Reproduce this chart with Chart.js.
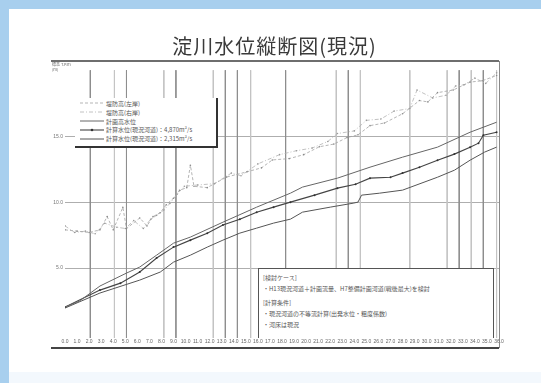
<!DOCTYPE html>
<html lang="ja">
<head>
<meta charset="utf-8">
<title>淀川水位縦断図(現況)</title>
<script src="https://cdn.jsdelivr.net/npm/chart.js@4.4.0/dist/chart.umd.min.js"></script>
<style>
  html, body { margin: 0; padding: 0; }
  body { width: 541px; height: 383px; position: relative; overflow: hidden; background: #f3f8fd;
         font-family: "Noto Sans CJK JP", "Noto Sans", sans-serif; }
  .band-top { position: absolute; left: 0; top: 0; width: 541px; height: 9px; background: #a8cfee; }
  .band-left { position: absolute; left: 0; top: 0; width: 9px; height: 383px; background: #a8cfee; }
  .panel { position: absolute; left: 9px; top: 9px; width: 532px; height: 363px; background: #fff; }
  #chart { position: absolute; left: 0; top: 0; }
  .title { position: absolute; left: 4px; top: 31px; width: 541px; text-align: center;
           font-size: 20px; color: #3a3a3a; letter-spacing: 1px; }
  .unit { position: absolute; left: 52px; top: 62px; font-size: 4px; line-height: 5px; color: #666; }
  #legend { position: absolute; left: 75px; top: 98px; width: 136px; height: 47px; background: #fff;
            border-right: 2px solid #333; border-bottom: 2px solid #333; padding: 1px 0 0 5px; box-sizing: content-box; }
  #legend .row { height: 8.8px; display: flex; align-items: center; font-size: 6px; color: #555; white-space: nowrap; }
  #legend svg { margin-right: 2px; flex: none; }
  .note { position: absolute; left: 258px; top: 268px; width: 230px; height: 66px; background: #fff;
          border: 1px solid #555; border-bottom: none; padding: 3px 0 0 4px; font-size: 6px; line-height: 11px;
          color: #555; white-space: nowrap; }
  .note .gap { height: 3px; }
</style>
</head>
<body>
<div class="band-top"></div>
<div class="band-left"></div>
<div class="panel"></div>
<canvas id="chart" width="541" height="383"></canvas>
<div class="title">淀川水位縦断図(現況)</div>
<div class="unit">標高 T.P.m<br>(m)</div>
<div id="legend"></div>
<div class="note">
  <div>[検討ケース]</div>
  <div>・H13現況河道＋計画流量、H7整備計画河道(戦後最大)を検討</div>
  <div class="gap"></div>
  <div>[計算条件]</div>
  <div>・現況河道の不等流計算(出発水位・粗度係数)</div>
  <div>・河床は現況</div>
</div>

<script>
// 距離標 (km) と目盛
const xTicks = [0, 1, 2, 3, 4, 5, 6, 7, 8, 9, 10, 11, 12, 13, 14, 15, 16, 17, 18,
                19, 20, 21, 22, 23, 24, 25, 26, 27, 28, 29, 30, 31, 32, 33, 34, 35, 36];
const yTicks = [5, 10, 15];

// 橋梁・構造物の位置 (km)
const bridgeKm   = [2.1, 4.1, 5.1, 8.2, 9.2, 12.3, 13.3, 14.3, 15.4, 18.3, 22.5, 23.5, 24.5, 28.6, 31.7, 32.7, 33.7, 34.7, 35.8];
const bridgeType = ['main', 'sub', 'main', 'sub', 'main', 'sub', 'main', 'main', 'sub', 'main',
                    'sub', 'main', 'sub', 'sub', 'sub', 'main', 'sub', 'main', 'sub'];
const bridgeTop = 20;

// 堤防高(左岸)
const levLeftKm = [0, 1.0, 2.0, 2.9, 3.5, 4.0, 4.8, 5.1, 6.2, 6.8, 7.3, 7.9, 8.4, 9.0, 9.5, 10.1, 10.4, 10.7, 11.8, 13.4,
                   15.1, 16.3, 17.2, 18.6, 19.8, 21.1, 22.3, 23.4, 24.3, 25.3, 26.5, 28.0, 29.4, 30.1, 30.9, 32.2, 33.6, 34.6, 35.8];
const levLeftZ  = [7.9, 7.8, 7.7, 7.9, 8.9, 7.9, 9.6, 8.0, 8.8, 8.2, 8.9, 9.2, 9.8, 10.3, 10.9, 11.1, 12.8, 11.2, 11.1, 11.9,
                   12.3, 12.6, 13.2, 13.3, 13.6, 14.2, 14.4, 14.9, 15.1, 15.8, 16.0, 16.7, 17.7, 17.6, 18.3, 18.5, 19.1, 19.2, 19.6];

// 堤防高(右岸)
const levRightKm = [0, 0.8, 1.7, 2.5, 3.3, 4.3, 5.0, 5.7, 6.5, 7.1, 7.6, 8.2, 8.7, 9.3, 9.9, 11.0, 12.4, 13.8, 14.6,
                    16.0, 17.8, 19.2, 20.5, 21.8, 22.6, 24.0, 25.0, 26.2, 27.3, 28.6, 29.2, 30.5, 31.6, 32.4, 33.1, 34.0, 34.9, 35.8];
const levRightZ  = [8.2, 7.7, 7.8, 7.6, 8.4, 8.1, 8.0, 8.6, 8.0, 8.7, 9.0, 9.4, 9.9, 10.6, 11.2, 11.3, 11.4, 12.2, 12.0,
                    12.9, 13.6, 13.9, 14.1, 14.6, 15.2, 15.4, 16.2, 16.3, 16.9, 17.1, 18.5, 17.9, 18.1, 18.8, 18.9, 19.4, 19.0, 19.8];

// 計画高水位
const hwlKm = [0, 1.2, 2.9, 5.1, 6.2, 7.6, 9.0, 10.4, 13.1, 15.9, 18.7, 19.7, 22.6, 25.3, 28.0, 30.9, 33.6, 35.8];
const hwlZ  = [2.05, 2.5, 3.64, 4.62, 5.08, 5.98, 6.89, 7.35, 8.48, 9.62, 10.68, 11.14, 11.82, 12.65, 13.41, 14.17, 15.30, 16.06];

// 計算水位(ケース1)
const calc1Km = [0, 2.9, 4.6, 6.2, 7.6, 9.0, 10.4, 11.8, 13.1, 14.5, 15.9, 17.3, 18.7, 20.7, 22.6, 24.1, 25.3, 27.0,
                 28.0, 29.4, 30.9, 32.3, 33.6, 34.3, 34.7, 35.8];
const calc1Z  = [2.05, 3.33, 3.86, 4.70, 5.76, 6.59, 7.12, 7.65, 8.26, 8.71, 9.24, 9.62, 10.0, 10.53, 11.06, 11.36, 11.82, 11.89,
                 12.2, 12.65, 13.18, 13.64, 14.17, 14.47, 15.08, 15.30];

// 計算水位(ケース2)
const calc2Km = [0, 2.9, 6.2, 7.9, 9.0, 10.4, 11.8, 13.1, 14.5, 15.9, 17.3, 18.7, 19.7, 22.0, 23.9, 24.3, 24.6, 26.1,
                 28.0, 30.9, 32.3, 33.6, 34.8, 35.8];
const calc2Z  = [1.97, 3.11, 4.09, 4.70, 5.45, 5.98, 6.59, 7.12, 7.65, 8.03, 8.41, 8.71, 9.24, 9.62, 9.92, 10.0, 10.53, 10.68,
                 10.91, 11.89, 12.42, 13.18, 13.79, 14.17];

const seriesLabels = ['堤防高(左岸)', '堤防高(右岸)', '計画高水位',
                      '計算水位(現況河道)：4,870m³/s', '計算水位(現況河道)：2,315m³/s'];

function pts(km, z) {
    return km.map((k, i) => ({ x: k, y: z[i] }));
}

// 橋梁位置の縦線 (データセットとして描く)
const bridgeSets = bridgeKm.map((km, i) => ({
    label: '',
    isBridge: true,
    data: [{ x: km, y: bridgeTop }, { x: km, y: -0.3 }],
    borderColor: bridgeType[i] === 'main' ? '#8e8e8e' : '#c4c4c4',
    borderWidth: 1,
    pointRadius: 0,
    order: 10
}));

// 外枠(上下の太線と右端)
const frame = {
    id: 'frame',
    afterDraw(chart) {
        const { ctx, chartArea, scales: { x, y } } = chart;
        const left = chartArea.left - y.width;
        ctx.save();
        ctx.strokeStyle = '#6e6e6e';
        ctx.lineWidth = 2;
        ctx.beginPath();
        ctx.moveTo(left, chartArea.top);
        ctx.lineTo(chartArea.right, chartArea.top);
        ctx.stroke();
        ctx.strokeStyle = '#444';
        ctx.beginPath();
        ctx.moveTo(left, x.bottom);
        ctx.lineTo(chartArea.right, x.bottom);
        ctx.stroke();
        ctx.strokeStyle = '#888';
        ctx.lineWidth = 1;
        ctx.beginPath();
        ctx.moveTo(chartArea.right + 0.5, chartArea.top);
        ctx.lineTo(chartArea.right + 0.5, x.bottom);
        ctx.stroke();
        ctx.restore();
    }
};

const ctx = document.getElementById('chart').getContext('2d');
const chart = new Chart(ctx, {
    type: 'line',
    data: {
        datasets: [
            { label: seriesLabels[0], data: pts(levLeftKm, levLeftZ), borderColor: '#a2a2a2', borderWidth: 0.8,
              borderDash: [3, 2], pointRadius: 0.8, pointBackgroundColor: '#8a8a8a', pointBorderWidth: 0, order: 2 },
            { label: seriesLabels[1], data: pts(levRightKm, levRightZ), borderColor: '#b2b2b2', borderWidth: 0.8,
              borderDash: [4, 2, 1, 2], pointRadius: 0.8, pointBackgroundColor: '#999', pointBorderWidth: 0, order: 2 },
            { label: seriesLabels[2], data: pts(hwlKm, hwlZ), borderColor: '#666', borderWidth: 1,
              pointRadius: 0, order: 1 },
            { label: seriesLabels[3], data: pts(calc1Km, calc1Z), borderColor: '#444', borderWidth: 1.1,
              pointRadius: 1, pointBackgroundColor: '#333', pointBorderWidth: 0, order: 1 },
            { label: seriesLabels[4], data: pts(calc2Km, calc2Z), borderColor: '#555', borderWidth: 1,
              pointRadius: 0, order: 1 }
        ].concat(bridgeSets)
    },
    options: {
        responsive: false,
        animation: false,
        devicePixelRatio: 1,
        layout: { padding: { left: 51, top: 61, right: 42, bottom: 35 } },
        plugins: {
            legend: { display: false },
            tooltip: { enabled: false }
        },
        scales: {
            x: {
                type: 'linear',
                min: 0,
                max: 36,
                afterFit: s => { s.height = 10; },
                afterBuildTicks: s => { s.ticks = xTicks.map(v => ({ value: v })); },
                ticks: { font: { size: 5 }, color: '#666', padding: 1, maxRotation: 0, autoSkip: false,
                         callback: v => v.toFixed(1) },
                grid: { display: false, drawTicks: false },
                border: { display: false }
            },
            y: {
                min: -0.3,
                max: 20.7,
                afterFit: s => { s.width = 14; },
                afterBuildTicks: s => { s.ticks = yTicks.map(v => ({ value: v })); },
                ticks: { font: { size: 5 }, color: '#777', padding: 2, callback: v => v.toFixed(1) },
                grid: { color: '#999', lineWidth: 0.8, drawTicks: false },
                border: { display: false }
            }
        }
    },
    plugins: [frame]
});

// 凡例 (データセットから作成)
const legendBox = document.getElementById('legend');
chart.data.datasets.filter(ds => !ds.isBridge).forEach(ds => {
    const row = document.createElement('div');
    row.className = 'row';
    const dash = (ds.borderDash || []).join(',');
    const marker = ds.pointRadius >= 1 ? '<circle cx="12" cy="3" r="1.3" fill="#333"/>' : '';
    row.innerHTML = '<svg width="24" height="6"><line x1="0" y1="3" x2="24" y2="3" stroke="' + ds.borderColor +
        '" stroke-width="' + ds.borderWidth + '" stroke-dasharray="' + dash + '"/>' + marker + '</svg><span>' + ds.label + '</span>';
    legendBox.appendChild(row);
});
</script>
</body>
</html>
